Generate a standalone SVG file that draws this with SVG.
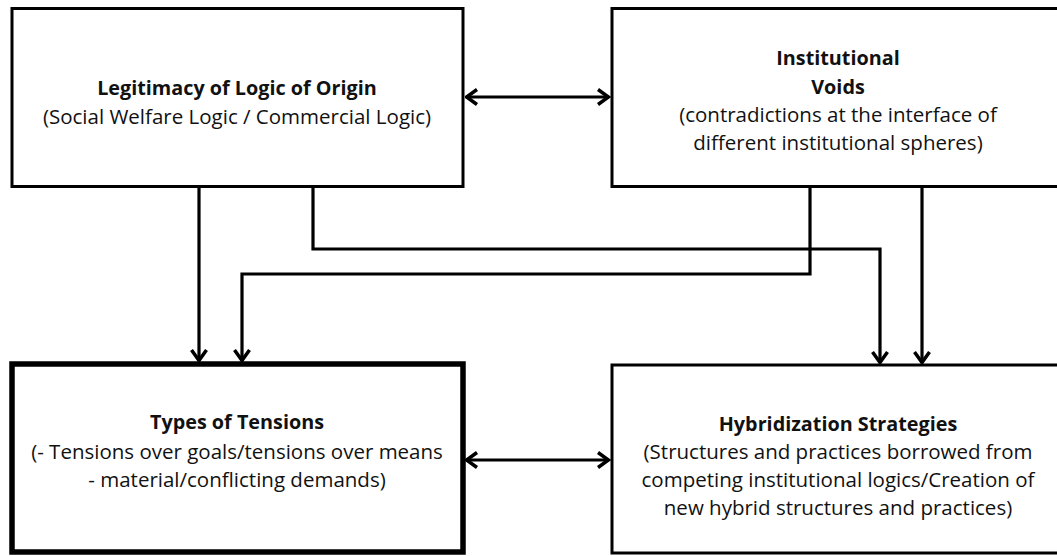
<svg xmlns="http://www.w3.org/2000/svg" width="1057" height="556" viewBox="0 0 1057 556">
<style>
.box{fill:#fff;stroke:#000;stroke-width:3}
.thick{stroke-width:5.5}
.t{font-family:"Open Sans","Liberation Sans",sans-serif;font-size:20.5px;fill:#111;text-anchor:middle}
.b{font-weight:bold;font-size:19.8px}
.c{fill:none;stroke:#000;stroke-width:3.2}
</style>
<defs>
<marker id="ah" viewBox="0 0 14 18" refX="12.5" refY="9" markerWidth="14" markerHeight="18" markerUnits="userSpaceOnUse" orient="auto-start-reverse">
<path d="M1.5,1.5 L12,9 L1.5,16.5" fill="none" stroke="#000" stroke-width="3.5"/>
</marker>
</defs>
<rect width="1057" height="556" fill="#fff"/>
<g id="connectors">
<line class="c" x1="466" y1="97" x2="609" y2="97" marker-start="url(#ah)" marker-end="url(#ah)"/>
<line class="c" x1="466" y1="460" x2="609" y2="460" marker-start="url(#ah)" marker-end="url(#ah)"/>
<line class="c" x1="199" y1="187" x2="199" y2="361" marker-end="url(#ah)"/>
<polyline class="c" points="313,187 313,249 880,249 880,363" marker-end="url(#ah)"/>
<polyline class="c" points="810,187 810,274 242,274 242,361" marker-end="url(#ah)"/>
<line class="c" x1="922" y1="187" x2="922" y2="363" marker-end="url(#ah)"/>
</g>
<g id="n1">
<rect class="box" x="12" y="8.5" width="451" height="178"/>
<text class="t b" x="237" y="95">Legitimacy of Logic of Origin</text>
<text class="t" x="237" y="124">(Social Welfare Logic / Commercial Logic)</text>
</g>
<g id="n2">
<rect class="box" x="612" y="8.5" width="455" height="178"/>
<text class="t b" x="838" y="65">Institutional</text>
<text class="t b" x="838" y="93.5">Voids</text>
<text class="t" x="838" y="122">(contradictions at the interface of</text>
<text class="t" x="838" y="150">different institutional spheres)</text>
</g>
<g id="n3">
<rect class="box thick" x="12" y="364" width="451" height="188"/>
<text class="t b" x="237" y="429">Types of Tensions</text>
<text class="t" x="237" y="459">(- Tensions over goals/tensions over means</text>
<text class="t" x="237" y="487">- material/conflicting demands)</text>
</g>
<g id="n4">
<rect class="box" x="612" y="365" width="455" height="188"/>
<text class="t b" x="838" y="431">Hybridization Strategies</text>
<text class="t" x="838" y="459">(Structures and practices borrowed from</text>
<text class="t" x="838" y="487">competing institutional logics/Creation of</text>
<text class="t" x="838" y="515">new hybrid structures and practices)</text>
</g>
</svg>
